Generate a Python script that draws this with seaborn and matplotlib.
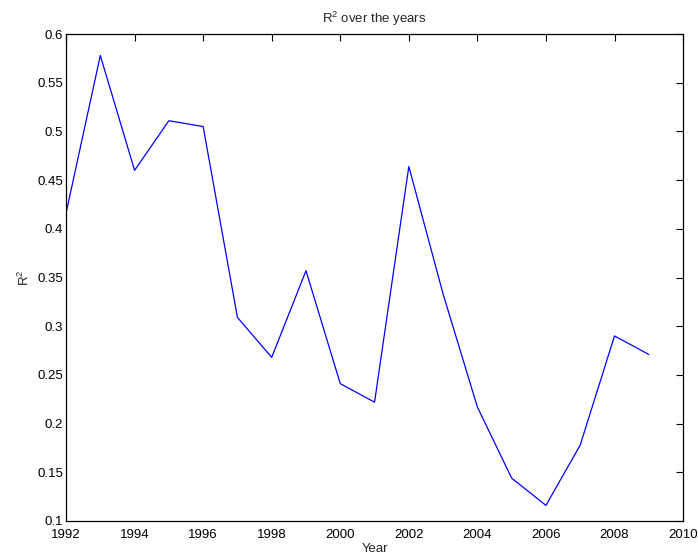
import pandas as pd
import matplotlib
matplotlib.use('Agg')
import matplotlib.pyplot as plt
import seaborn as sns

# Valores
anos = [1992, 1993, 1994, 1995, 1996, 1997, 1998, 1999, 2000,
        2001, 2002, 2003, 2004, 2005, 2006, 2007, 2008, 2009]
r2 = [0.416, 0.578, 0.460, 0.511, 0.505, 0.309, 0.268, 0.357, 0.241,
      0.222, 0.464, 0.333, 0.217, 0.144, 0.116, 0.178, 0.290, 0.271]
xticks = list(range(1992, 2011, 2))
yticks = [0.1, 0.15, 0.2, 0.25, 0.3, 0.35, 0.4, 0.45, 0.5, 0.55, 0.6]

data = pd.DataFrame({'Year': anos, 'R2': r2})

sns.set_style("white")
plt.rcParams['font.family'] = ['Liberation Sans', 'DejaVu Sans']
plt.rcParams['mathtext.fontset'] = 'custom'
plt.rcParams['mathtext.rm'] = 'Liberation Sans'
plt.rcParams['mathtext.it'] = 'Liberation Sans'

fig = plt.figure(figsize=(6.98, 5.55), dpi=100)
ax = fig.add_axes([0.0946, 0.0613, 0.8840, 0.8774])

sns.lineplot(x='Year', y='R2', data=data, color='#0000ff', linewidth=0.9, ax=ax)

ax.set_xlim(1992, 2010)
ax.set_ylim(0.1, 0.6)
ax.set_xticks(xticks)
ax.set_xticklabels([str(t) for t in xticks])
ax.set_yticks(yticks)
ax.set_yticklabels([f'{t:g}' for t in yticks])
ax.tick_params(direction='in', length=5, width=0.8, labelsize=9.5, colors='black',
               top=True, right=True, pad=2)
ax.tick_params(axis='x', pad=5.5)
for s in ax.spines.values():
    s.set_color('black')
    s.set_linewidth(0.9)

ax.set_title('R$^2$ over the years', fontsize=9.5, pad=8)
ax.set_xlabel('Year', fontsize=9.5, labelpad=1.5)
ax.set_ylabel('R$^2$', fontsize=9.5, labelpad=4)

plt.savefig('out.png', dpi=100)
